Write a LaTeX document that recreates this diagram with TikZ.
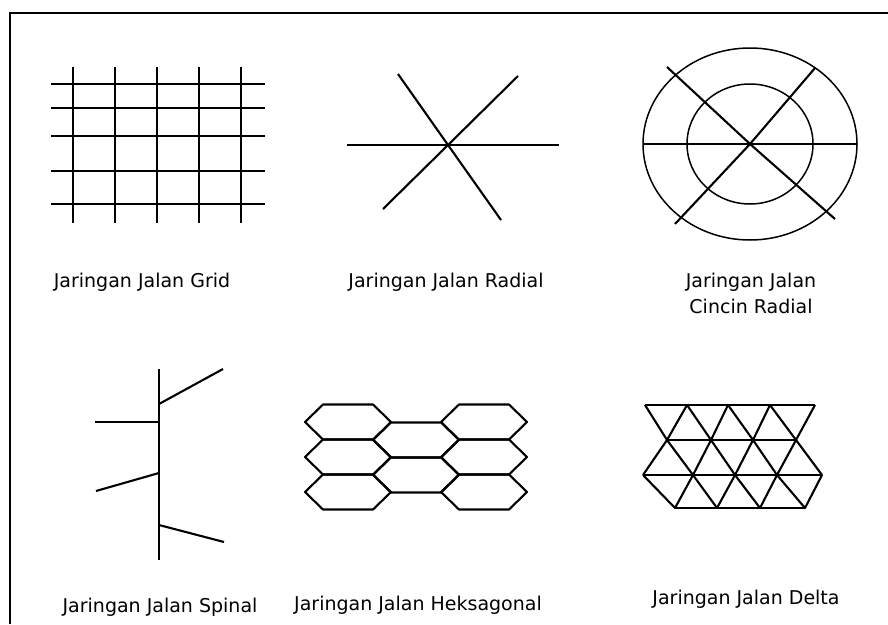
\documentclass[tikz,border=0pt]{standalone}
\usepackage{fontspec}
\setmainfont{DejaVu Sans}
\begin{document}
\begin{tikzpicture}[x=1pt,y=-1pt,
    road/.style={line width=2.1pt},
    ring/.style={line width=1.5pt},
    lbl/.style={anchor=base,align=center,font=\fontsize{19}{26}\selectfont}]
    \useasboundingbox (0,0) rectangle (888,624);
    \draw[line width=1.6pt] (10,624) -- (10,13) -- (888,13);
    % grid
    \foreach \x in {73,115,157,199,241}{\draw[road] (\x,67) -- (\x,223);}
    \foreach \y in {84,108,136,171,204}{\draw[road] (51,\y) -- (265,\y);}
    % radial
    \coordinate (rc) at (448,145);
    \draw[road] (347,145) -- (rc) -- (559,145);
    \draw[road] (398,74) -- (rc) -- (501,220);
    \draw[road] (518,76) -- (rc) -- (383,209);
    % cincin radial
    \coordinate (cc) at (750,144);
    \draw[ring] (cc) ellipse [x radius=107pt, y radius=96pt];
    \draw[ring] (cc) ellipse [x radius=63pt, y radius=60pt];
    \draw[road] (643,144) -- (857,144);
    \draw[road] (667,67) -- (cc) -- (835,219);
    \draw[road] (815,68) -- (cc) -- (675,224);
    % spinal
    \draw[road] (159,369) -- (159,560);
    \foreach \ya/\xb/\yb in {404/223/369,422/95/422,473/96/491,525/224/542}{\draw[road] (159,\ya) -- (\xb,\yb);}
    % heksagonal
    \foreach \cx/\cy in {348/422,348/457,348/492,416/440,416/475,484/422,484/457,484/492}{
        \draw[road,line join=round] (\cx-43,\cy) -- (\cx-25,\cy-17.5) -- (\cx+25,\cy-17.5) -- (\cx+43,\cy) -- (\cx+25,\cy+17.5) -- (\cx-25,\cy+17.5) -- cycle;}
    % delta
    \foreach \x [count=\i] in {645,687,728,770,815}{\coordinate (a\i) at (\x,405);}
    \foreach \x [count=\i] in {667,711,753,796}{\coordinate (b\i) at (\x,440);}
    \foreach \x [count=\i] in {643,693,735,777,822}{\coordinate (c\i) at (\x,475);}
    \foreach \x [count=\i] in {675,717,760,805}{\coordinate (d\i) at (\x,508);}
    \draw[road] (a1) -- (a5) (b1) -- (b4) (c1) -- (c5) (d1) -- (d4);
    \foreach \i [evaluate=\i as \j using int(\i+1)] in {1,...,4}{
        \draw[road,line join=round] (a\i) -- (b\i) -- (a\j) (c\i) -- (b\i) -- (c\j) (c\i) -- (d\i) -- (c\j);}
    % labels
    \node[lbl] (lgrid) at (142,287) {Jaringan Jalan Grid};
    \node[lbl] (lradial) at (446,287) {Jaringan Jalan Radial};
    \node[lbl] (lcincin) at (751,313) {Jaringan Jalan\\Cincin Radial};
    \node[lbl] (lspinal) at (160,612) {Jaringan Jalan Spinal};
    \node[lbl] (lheks) at (418,610) {Jaringan Jalan Heksagonal};
    \node[lbl] (ldelta) at (746,604) {Jaringan Jalan Delta};
\end{tikzpicture}
\end{document}
